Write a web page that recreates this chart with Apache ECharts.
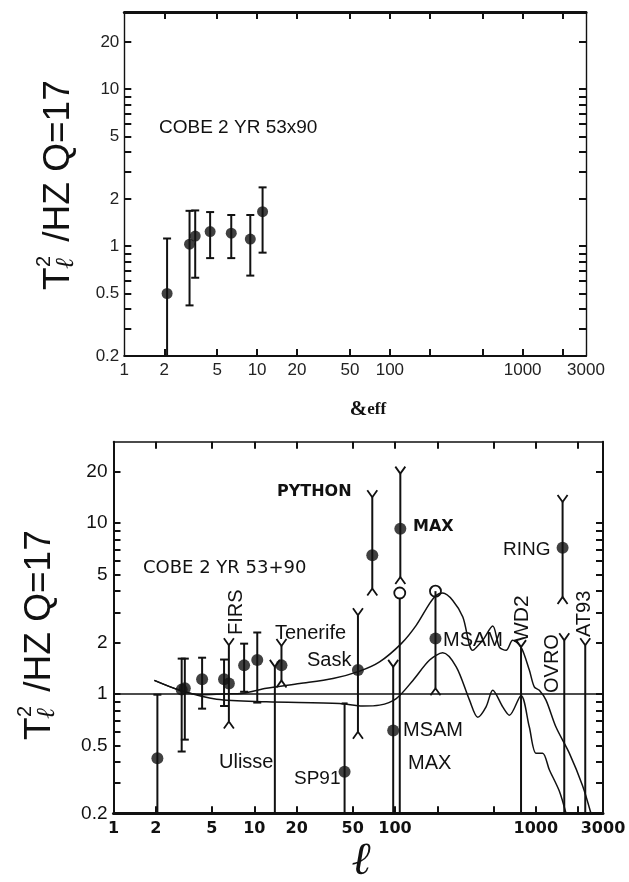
<!DOCTYPE html>
<html><head><meta charset="utf-8">
<script src="https://cdn.jsdelivr.net/npm/echarts@6/dist/echarts.min.js"></script>
<style>html,body{margin:0;padding:0;background:#fff}#c{width:629px;height:882px}</style>
</head><body><div id="c"></div>
<script>
// ---------------- data ----------------
const xTickValues  = [2, 5, 10, 20, 50, 100, 200, 500, 1000, 2000];
const xLabelValues = [1, 2, 5, 10, 20, 50, 100, 1000, 3000];
const yLabelValues = [0.2, 0.5, 1, 2, 5, 10, 20];
const yTickValues  = [0.3, 0.4, 0.5, 0.6, 0.7, 0.8, 0.9, 1, 2, 3, 4, 5, 6, 7, 8, 9, 10, 20];

// top panel: COBE 2 YR 53x90
const cobeTopL  = [2.1, 3.1, 3.42, 4.43, 6.39, 8.89, 11.0];
const cobeTopV  = [0.50, 1.03, 1.16, 1.24, 1.21, 1.11, 1.66];
const cobeTopLo = [0.1, 0.42, 0.63, 0.84, 0.84, 0.65, 0.91];
const cobeTopHi = [1.12, 1.68, 1.69, 1.65, 1.58, 1.58, 2.37];

// bottom panel: COBE 2 YR 53+90
const cobeL  = [2.05, 3.05, 3.21, 4.26, 6.1, 8.47, 10.5];
const cobeV  = [0.42, 1.06, 1.08, 1.22, 1.22, 1.47, 1.58];
const cobeLo = [0.1, 0.46, 0.54, 0.82, 0.85, 1.03, 0.89];
const cobeHi = [0.99, 1.61, 1.61, 1.63, 1.59, 1.97, 2.29];

// experiments with two-sided errors
const expNames = ['FIRS', 'Tenerife', 'Sask', 'PYTHON', 'MAX', 'RING'];
const expL  = [6.6, 15.6, 54.5, 68.9, 109, 1549];
const expV  = [1.15, 1.47, 1.38, 6.48, 9.29, 7.18];
const expLo = [0.69, 1.20, 0.60, 4.14, 4.84, 3.70];
const expHi = [1.93, 1.91, 2.89, 14.2, 19.5, 13.3];

// MSAM (l ~ 200)
const msamL = [193.7], msamV = [2.11], msamLo = [1.08], msamHi = [4.0];

// SP91
const sp91L = [43.8], sp91V = [0.35], sp91Hi = [0.88];

// upper limits reaching down to the axis
const limNames = ['Ulisse', 'MSAM', 'WD2', 'OVRO', 'AT93'];
const limL  = [14.0, 97, 785, 1592, 2244];
const limHi = [1.44, 1.44, 1.88, 2.06, 1.93];
const msamLowV = [0.61];

// MAX upper limit (open symbol)
const maxLimL = [108], maxLimHi = [3.9];

// model curves
const modelAL = [1.95, 2.96, 4.1, 6.0, 8.33, 12.2, 21, 36.2, 56, 77.6, 110.7, 141.3, 175.7, 196, 218, 257, 303, 356, 419, 494, 551, 615, 685, 785, 899, 975, 1059, 1181, 1390, 1729, 2148, 2462];
const modelAV = [1.20, 1.05, 0.99, 1.00, 1.01, 1.08, 1.15, 1.23, 1.36, 1.54, 1.97, 2.52, 3.38, 3.78, 3.90, 3.53, 2.82, 1.80, 2.06, 2.50, 1.88, 1.80, 2.06, 1.88, 1.38, 1.10, 1.05, 0.92, 0.64, 0.45, 0.29, 0.20];
const modelBL = [1.95, 2.96, 5.4, 12.2, 40.4, 59, 77.6, 102, 134, 176, 218, 272, 338, 387, 443, 494, 582, 649, 785, 899, 1003, 1117, 1247, 1468, 1637];
const modelBV = [1.20, 1.05, 0.93, 0.90, 0.88, 0.85, 0.86, 0.94, 1.20, 1.58, 1.74, 1.44, 0.92, 0.73, 0.84, 1.05, 0.84, 0.75, 0.98, 0.64, 0.45, 0.45, 0.36, 0.27, 0.20];
const unityL = [1, 3000], unityV = [1, 1];

// ---------------- helpers ----------------
const INK = '#111';
const Y_MIN = 0.2;
const zip = (...a) => a[0].map((_, i) => a.map(arr => arr[i]));
const fill = (arr, v) => arr.map(() => v);

function capShapes(kind, x, y, dir, w) {
  if (kind === 'flat') return [{type: 'line', shape: {x1: x - w, y1: y, x2: x + w, y2: y}, style: {stroke: INK, lineWidth: 2}}];
  if (kind === 'fork') return [{type: 'polyline', shape: {points: [[x - 5, y + dir * 7], [x, y], [x + 5, y + dir * 7]]}, style: {stroke: INK, lineWidth: 1.8, fill: null}}];
  if (kind === 'ring') return [{type: 'circle', shape: {cx: x, cy: y, r: 5.5}, style: {stroke: INK, lineWidth: 1.8, fill: '#fff'}}];
  if (kind === 'ringx') return [{type: 'circle', shape: {cx: x, cy: y, r: 5.5}, style: {stroke: INK, lineWidth: 1.8, fill: null}}];
  return [];
}
function barRenderer(topKind, botKind, w) {
  return function (params, api) {
    const l = api.value(0), lo = api.value(1), hi = api.value(2);
    const top = api.coord([l, hi]);
    const loIn = lo >= Y_MIN;
    const bot = api.coord([l, loIn ? lo : Y_MIN]);
    const ch = [{type: 'line', shape: {x1: top[0], y1: top[1], x2: bot[0], y2: bot[1]}, style: {stroke: INK, lineWidth: 2}}];
    ch.push(...capShapes(topKind, top[0], top[1], -1, w));
    if (loIn) ch.push(...capShapes(botKind, bot[0], bot[1], 1, w));
    return {type: 'group', children: ch};
  };
}
function bars(name, xi, data, topKind, botKind, w) {
  return {type: 'custom', name, xAxisIndex: xi, yAxisIndex: xi, data, renderItem: barRenderer(topKind, botKind, w || 4), encode: {x: 0, y: [1, 2]}, z: 3, silent: true};
}
function dots(name, xi, data, size) {
  return {type: 'scatter', name, xAxisIndex: xi, yAxisIndex: xi, data, symbol: 'circle', symbolSize: size, itemStyle: {color: INK}, z: 5, silent: true};
}
function curve(name, data, w) {
  return {type: 'line', name, xAxisIndex: 2, yAxisIndex: 2, data, showSymbol: false, symbol: 'none', smooth: 0.3, lineStyle: {color: INK, width: w}, z: 2, silent: true};
}
const fmt = v => String(+(+v).toPrecision(3));

function xAxes(gi, labelStyle, lineW, topW) {
  return [
    {type: 'log', logBase: 10, gridIndex: gi, min: 1, max: 3000, position: 'bottom',
     axisLine: {show: true, lineStyle: {color: INK, width: lineW}},
     axisTick: {show: true, inside: true, length: 7, customValues: xTickValues, lineStyle: {color: INK, width: 2}},
     minorTick: {show: false}, splitLine: {show: false},
     axisLabel: Object.assign({show: true, customValues: xLabelValues, formatter: fmt, color: INK}, labelStyle)},
    {type: 'log', logBase: 10, gridIndex: gi, min: 1, max: 3000, position: 'top',
     axisLine: {show: true, lineStyle: {color: INK, width: topW}},
     axisTick: {show: true, inside: true, length: 7, customValues: xTickValues, lineStyle: {color: INK, width: 2}},
     splitLine: {show: false}, axisLabel: {show: false}}
  ];
}
function yAxes(gi, max, labelStyle, lineW) {
  return [
    {type: 'log', logBase: 10, gridIndex: gi, min: Y_MIN, max, position: 'left',
     axisLine: {show: true, lineStyle: {color: INK, width: lineW}},
     axisTick: {show: true, inside: true, length: 7, customValues: yTickValues, lineStyle: {color: INK, width: 2}},
     splitLine: {show: false},
     axisLabel: Object.assign({show: true, customValues: yLabelValues, formatter: fmt, color: INK}, labelStyle)},
    {type: 'log', logBase: 10, gridIndex: gi, min: Y_MIN, max, position: 'right',
     axisLine: {show: true, lineStyle: {color: INK, width: lineW}},
     axisTick: {show: true, inside: true, length: 7, customValues: yTickValues, lineStyle: {color: INK, width: 2}},
     splitLine: {show: false}, axisLabel: {show: false}}
  ];
}

function yTitle(cx, by) {
  const f = 'Liberation Sans, Arial, sans-serif';
  return {type: 'group', x: cx, y: by, rotation: Math.PI / 2, children: [
    {type: 'text', x: 0, y: 0, style: {text: 'T', fontSize: 37, fontFamily: f, fill: INK, align: 'left', verticalAlign: 'middle'}},
    {type: 'text', x: 23, y: -15, style: {text: '2', fontSize: 20, fontFamily: f, fill: INK, align: 'left', verticalAlign: 'middle'}},
    {type: 'text', x: 21, y: 7, style: {text: 'ℓ', fontSize: 26, fontStyle: 'italic', fontFamily: 'Liberation Serif, serif', fill: INK, align: 'left', verticalAlign: 'middle'}},
    {type: 'text', x: 38, y: 0, style: {text: ' /HZ Q=17', fontSize: 37, fontFamily: f, fill: INK, align: 'left', verticalAlign: 'middle'}}
  ]};
}
function note(text, x, y, opt) {
  const o = Object.assign({size: 20, family: 'Liberation Sans, Arial, sans-serif', weight: 'normal', rot: 0}, opt || {});
  return {type: 'text', x, y, rotation: o.rot, style: {text, fontSize: o.size, fontFamily: o.family, fontWeight: o.weight, fill: INK, align: 'left', verticalAlign: 'middle'}};
}

const chart = echarts.init(document.getElementById('c'), null, {renderer: 'canvas'});
const topLab = {fontSize: 17, fontFamily: 'Liberation Sans, Arial, sans-serif', color: '#222'};
const botLabX = {fontSize: 16, fontFamily: 'DejaVu Sans, sans-serif', fontWeight: 'bold'};
const botLabY = {fontSize: 19, fontFamily: 'Liberation Sans, Arial, sans-serif'};

chart.setOption({
  animation: false,
  backgroundColor: '#fff',
  grid: [
    {left: 124.3, top: 12, width: 461.7, height: 344},
    {left: 113.5, top: 441.7, width: 489.5, height: 371.6}
  ],
  xAxis: [
    ...xAxes(0, Object.assign({margin: 6}, topLab), 2.2, 3),
    ...xAxes(1, Object.assign({margin: 8}, botLabX), 3, 1.6)
  ],
  yAxis: [
    ...yAxes(0, 31, Object.assign({margin: 5}, topLab), 1.4),
    ...yAxes(1, 30, Object.assign({margin: 6}, botLabY), 2)
  ],
  series: [
    // top panel
    bars('COBE 53x90 errors', 0, zip(cobeTopL, cobeTopLo, cobeTopHi), 'flat', 'flat', 4),
    dots('COBE 53x90', 0, zip(cobeTopL, cobeTopV), 11),
    // bottom panel
    curve('unity', zip(unityL, unityV), 1.5),
    curve('model A', zip(modelAL, modelAV), 1.5),
    curve('model B', zip(modelBL, modelBV), 1.5),
    bars('COBE 53+90 errors', 2, zip(cobeL, cobeLo, cobeHi), 'flat', 'flat', 4),
    bars('SP91 errors', 2, zip(sp91L, fill(sp91L, 0.1), sp91Hi), 'flat', 'none', 3),
    bars('experiment errors', 2, zip(expL, expLo, expHi), 'fork', 'fork'),
    bars('MSAM errors', 2, zip(msamL, msamLo, msamHi), 'ringx', 'fork'),
    bars('upper limits', 2, zip(limL, fill(limL, 0.1), limHi), 'fork', 'none'),
    bars('MAX limit', 2, zip(maxLimL, fill(maxLimL, 0.1), maxLimHi), 'ring', 'none'),
    dots('COBE 53+90', 2, zip(cobeL, cobeV), 12),
    dots('experiments', 2, zip(expL, expV), 12),
    dots('MSAM', 2, zip(msamL, msamV), 12),
    dots('SP91', 2, zip(sp91L, sp91V), 12),
    dots('MSAM low', 2, zip([limL[1]], msamLowV), 12)
  ],
  graphic: [
    yTitle(59, 290),
    yTitle(40, 740),
    note('COBE 2 YR 53x90', 159, 128, {size: 19}),
    {type: 'text', x: 368, y: 410, style: {text: '{a|&}{b|eff}', align: 'center', verticalAlign: 'middle', rich: {a: {fontSize: 21, fontWeight: 'bold', fontFamily: 'Liberation Serif, serif', fill: INK}, b: {fontSize: 17, fontWeight: 'bold', fontFamily: 'Liberation Serif, serif', fill: INK}}}},
    {type: 'text', x: 362, y: 862, style: {text: 'ℓ', fontSize: 46, fontStyle: 'italic', fontWeight: 'bold', fontFamily: 'Liberation Serif, serif', fill: INK, align: 'center', verticalAlign: 'middle'}},
    note('COBE 2 YR 53+90', 143, 568, {size: 18, family: 'DejaVu Sans, sans-serif'}),
    note('PYTHON', 277, 492, {size: 16, family: 'DejaVu Sans, sans-serif', weight: 'bold'}),
    note('MAX', 413, 527, {size: 16, family: 'DejaVu Sans, sans-serif', weight: 'bold'}),
    note('RING', 503, 550, {size: 19}),
    note('FIRS', 236, 635, {size: 20, rot: Math.PI / 2}),
    note('Tenerife', 275, 633, {size: 20}),
    note('Sask', 307, 660, {size: 20}),
    note('Ulisse', 219, 762, {size: 20}),
    note('SP91', 294, 779, {size: 19}),
    note('MSAM', 443, 640, {size: 20}),
    note('MSAM', 403, 730, {size: 20}),
    note('MAX', 408, 763, {size: 20}),
    note('WD2', 522, 642, {size: 21, rot: Math.PI / 2}),
    note('OVRO', 552, 693, {size: 20, rot: Math.PI / 2}),
    note('AT93', 584, 637, {size: 20, rot: Math.PI / 2})
  ]
});
</script></body></html>
